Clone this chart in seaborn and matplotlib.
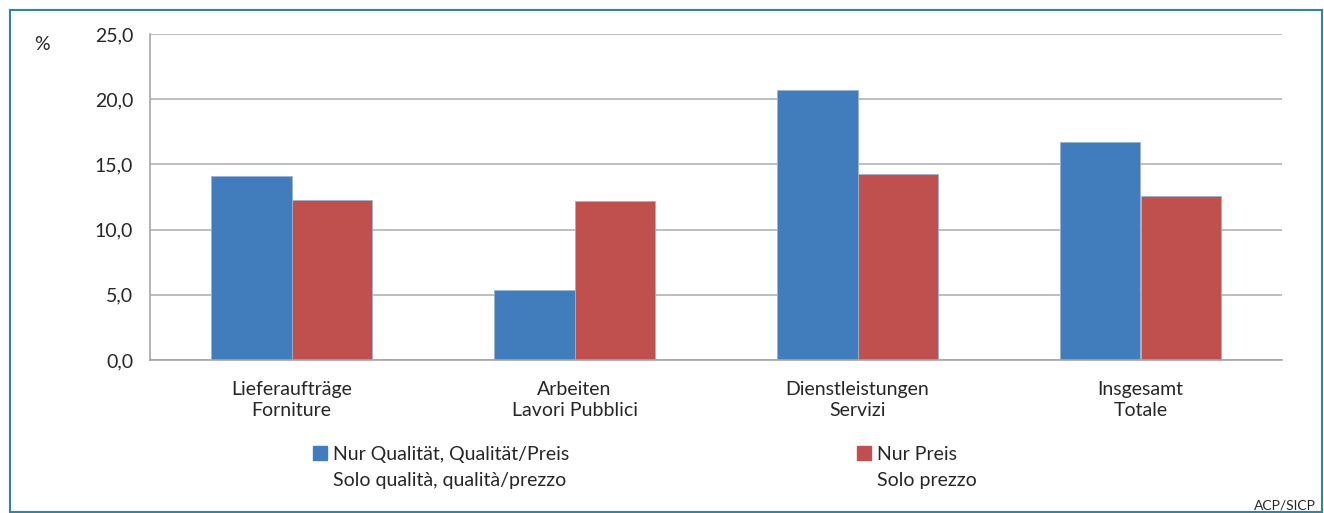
# Vergabekriterien – Anteil nach Auftragsart (Bar chart, DE/IT)
import numpy as np
import pandas as pd
import matplotlib
matplotlib.use("Agg")
import matplotlib.pyplot as plt
import matplotlib.patches as mpatches
from matplotlib.ticker import FuncFormatter, FixedLocator
import seaborn as sns

# ── Data ─────────────────────────────────────────────────────
categories = [
    "Lieferaufträge\nForniture",
    "Arbeiten\nLavori Pubblici",
    "Dienstleistungen\nServizi",
    "Insgesamt\nTotale",
]
series_names = [
    "Nur Qualität, Qualität/Preis\nSolo qualità, qualità/prezzo",
    "Nur Preis\nSolo prezzo",
]
quality_values = [14.1, 5.4, 20.7, 16.7]
price_values = [12.3, 12.2, 14.3, 12.6]

colors = ["#417CBD", "#C0504D"]

df = pd.DataFrame({
    "cat": categories * 2,
    "series": [series_names[0]] * 4 + [series_names[1]] * 4,
    "value": quality_values + price_values,
})

# ── Plot ─────────────────────────────────────────────────────
sns.set_style("white")
plt.rcParams["font.family"] = ["Lato", "DejaVu Sans"]
FS = 14

fig = plt.figure(figsize=(13.24, 5.13), dpi=100)
ax = fig.add_axes([150 / 1324, 1 - 360 / 513, 1132 / 1324, 326 / 513])

sns.barplot(data=df, x="cat", y="value", hue="series", palette=colors,
            width=0.57, ax=ax, saturation=1, legend=False, errorbar=None,
            edgecolor="#9BB3D0", linewidth=0.6)

ax.set_xlim(-0.5, 3.5)
ax.set_ylim(0, 25)
ax.set_yticks(np.arange(0, 25.1, 5))
ax.yaxis.set_major_formatter(FuncFormatter(lambda v, p: f"{v:.1f}".replace(".", ",")))
ax.yaxis.grid(True, color="#B3B3B3", linewidth=1.2)
ax.set_axisbelow(True)

# category labels centred, tick marks at category borders
ax.set_xticks(range(4))
ax.set_xticklabels(categories, fontsize=FS, linespacing=1.3)
ax.tick_params(axis="x", length=0, pad=15)
ax.xaxis.set_minor_locator(FixedLocator(np.arange(-0.5, 3.6, 1)))
ax.tick_params(axis="x", which="minor", length=6, color="#A6A6A6", width=1.2)
ax.tick_params(axis="y", length=6, color="#A6A6A6", width=1.2, labelsize=FS, pad=6)

ax.set_xlabel("")
ax.set_ylabel("")
for s in ["top", "right"]:
    ax.spines[s].set_visible(False)
for s in ["left", "bottom"]:
    ax.spines[s].set_color("#A6A6A6")
    ax.spines[s].set_linewidth(1.2)

fig.text(34 / 1324, 1 - 45 / 513, "%", fontsize=FS, va="center")

# legend: handle on the first line, second line aligned with the text
blank = mpatches.Patch(color="none")
for i, x0 in enumerate([305, 849]):
    line1, line2 = series_names[i].split("\n")
    fig.legend([mpatches.Patch(color=colors[i]), blank], [line1, line2],
               loc="upper left", bbox_to_anchor=(x0 / 1324, 1 - 438 / 513),
               frameon=False, fontsize=FS, handlelength=0.75, handleheight=0.75,
               handletextpad=0.3, labelspacing=0.45, borderaxespad=0)

fig.text(1316 / 1324, 1 - 505 / 513, "ACP/SICP", fontsize=10, ha="right", va="center")

# outer frame
fig.patches.append(mpatches.Rectangle((10 / 1324, 1 / 513), 1312 / 1324, 502 / 513,
                                      transform=fig.transFigure, fill=False,
                                      edgecolor="#31859C", linewidth=1.5))

fig.savefig("out.png", dpi=100)
